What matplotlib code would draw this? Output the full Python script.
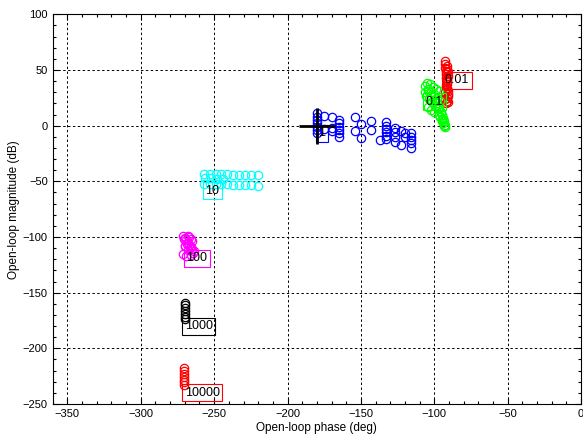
import matplotlib
matplotlib.use('Agg')
import matplotlib.pyplot as plt
from matplotlib.ticker import MultipleLocator

plt.rcParams['font.family'] = ['Liberation Sans', 'DejaVu Sans']

# template points (open-loop phase in deg, magnitude in dB) for each frequency
ph_001 = [-92.8, -92.6, -92.4, -92.2, -92.0, -91.8, -91.6, -91.4, -91.2, -91.0,
          -90.8, -91.2, -91.6, -92.0, -92.4, -92.8, -92.2, -91.5, -90.9, -91.3,
          -91.0, -90.8, -91.2, -91.4, -90.9, -91.1]
mag_001 = [58, 55, 52, 49, 46, 43, 40, 37, 34, 31,
           28, 25, 22, 20, 24, 30, 36, 42, 48, 54,
           21, 27, 33, 39, 45, 51]

ph_01 = [-106, -105, -104, -103, -102, -101, -100, -99, -98, -97,
         -105.5, -103.5, -101.5, -99.5, -97.5, -104, -102, -100, -98, -96,
         -97, -96, -95, -94.5, -94, -93.5, -95.5, -94, -93, -92.5,
         -106, -104.5, -102.5, -100.5, -98.5, -96.5, -95, -93.5]
mag_01 = [36, 38, 33, 37, 30, 35, 28, 33, 25, 31,
          27, 24, 21, 18, 15, 17, 14, 12, 20, 22,
          10, 8, 6, 4, 2, 0, 12, 7, 1, -1,
          30, 31, 27, 23, 18, 16, 10, 4]

ph_1 = [-180, -180, -180, -180, -180, -180, -180,
        -175, -175, -170, -170, -170,
        -165, -165, -165, -165, -165, -165,
        -154, -154, -150, -150, -143, -143, -137,
        -133, -133, -133, -133, -133, -133,
        -127, -127, -127, -127, -123, -123, -120, -120,
        -116, -116, -116, -116, -116]
mag_1 = [11, 8, 5, 2, -1, -4, -7,
         9, -3, 8, -2, -5,
         5, 2, -1, -4, -7, -10,
         8, -5, 1.5, -11, 4, -4, -13,
         3, 0, -3, -6, -9, -12,
         -2, -6, -10, -15, -5, -17, -7, -10,
         -7, -10, -13, -16, -20]

ph_10 = [-257, -253, -249, -245, -241, -237, -233, -229, -225, -220,
         -257, -253, -249, -245, -241, -237, -233, -229, -225, -220,
         -256, -252, -248, -244]
mag_10 = [-43, -43, -43, -43, -43, -44, -44, -44, -44, -44,
          -52, -52, -52, -52, -52, -53, -53, -53, -53, -54,
          -47, -47, -48, -48]

ph_100 = [-271, -270, -269, -268, -267, -266, -265, -264, -271, -269, -267, -265, -270, -268, -266,
          -270.5, -268.5, -266.5, -264.5, -270, -268, -266]
mag_100 = [-99, -101, -103, -105, -107, -109, -111, -113, -115, -117, -100, -104, -108, -112, -116,
           -102, -106, -110, -114, -108, -99, -102]

ph_1000 = [-270, -270, -270, -270, -270, -270, -270]
mag_1000 = [-159, -161.5, -164, -166.5, -169, -171.5, -174]

ph_10000 = [-270.5, -270.5, -270.5, -270.5, -270.5, -270.5, -270.5]
mag_10000 = [-218, -220.5, -223, -225.5, -228, -230.5, -233]

freqs = ['0.01', '0.1', '1', '10', '100', '1000', '10000']
colours = ['#ff0000', '#00ff00', '#0000ff', '#00ffff', '#ff00ff', '#000000', '#ff0000']
templates = [(ph_001, mag_001), (ph_01, mag_01), (ph_1, mag_1), (ph_10, mag_10),
             (ph_100, mag_100), (ph_1000, mag_1000), (ph_10000, mag_10000)]
# nominal point of each template, where the frequency label goes
label_ph = [-92.8, -105.7, -179, -256, -269, -270, -270]
label_mag = [41, 21.5, -6.6, -58.6, -119, -180, -240]

fig = plt.figure(figsize=(5.83, 4.38), dpi=100)
ax = fig.add_axes([0.0904, 0.0776, 0.9063, 0.8897])

for (ph, mag), col in zip(templates, colours):
    ax.plot(ph, mag, 'o', mfc='none', mec=col, ms=6, mew=0.9, zorder=3)

for f, col, x, y in zip(freqs, colours, label_ph, label_mag):
    ax.text(x, y, f, fontsize=9, ha='left', va='center', zorder=4,
            bbox=dict(boxstyle='square,pad=0.2', fc='none', ec=col, lw=0.8))

# critical point
ax.plot([-180], [0], '+', color='k', ms=26, mew=2, zorder=5)

ax.set_xlim(-360, 0)
ax.set_ylim(-250, 100)
ax.xaxis.set_major_locator(MultipleLocator(50))
ax.xaxis.set_minor_locator(MultipleLocator(10))
ax.yaxis.set_major_locator(MultipleLocator(50))
ax.yaxis.set_minor_locator(MultipleLocator(10))
ax.tick_params(which='both', direction='in', top=True, right=True, labelsize=8)
ax.tick_params(which='major', length=4, width=0.8)
ax.tick_params(which='minor', length=2.5, width=0.8)
ax.grid(True, which='major', color='k', linestyle=(0, (2.5, 2.5)), linewidth=0.7)
ax.set_axisbelow(True)

ax.set_xlabel('Open-loop phase (deg)', fontsize=8.5, labelpad=2)
ax.set_ylabel('Open-loop magnitude (dB)', fontsize=8.5, labelpad=2)

fig.savefig('out.png', dpi=100)
